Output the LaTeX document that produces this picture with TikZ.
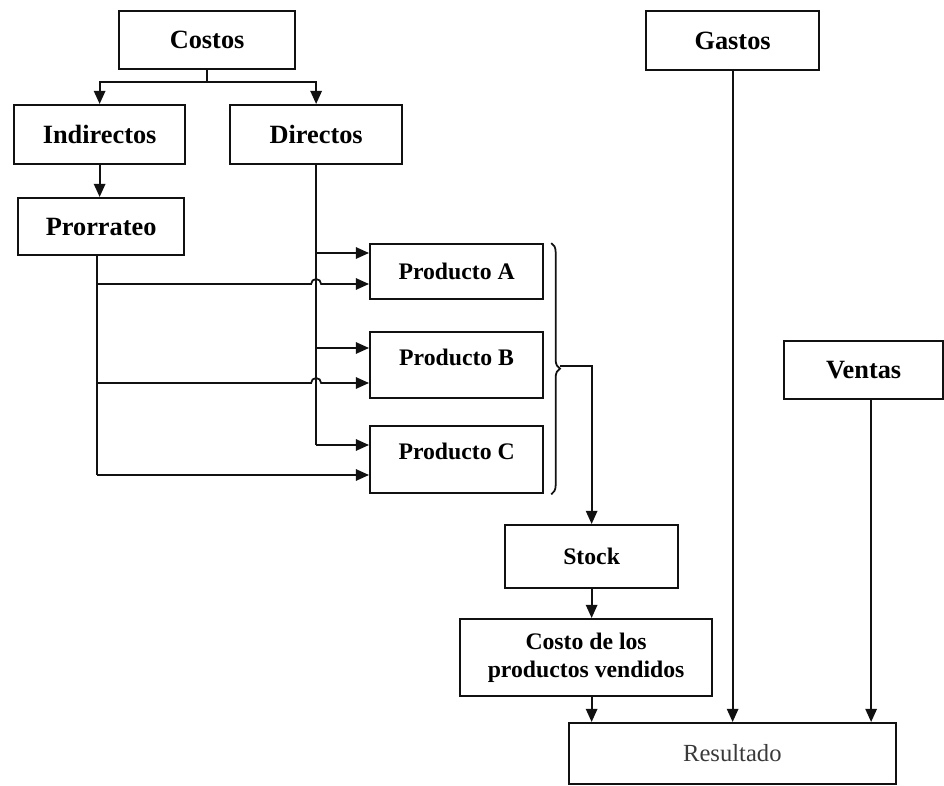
\documentclass[tikz,border=0pt]{standalone}
\usepackage{fontspec}
\setmainfont{Liberation Serif}
\usepackage{xcolor}
\usepackage{tikz}
\usetikzlibrary{arrows.meta,decorations.pathreplacing}
\definecolor{ink}{HTML}{111111}
\definecolor{soft}{HTML}{3A3A3A}
\tikzset{
  box/.style={draw=ink, line width=1.3pt, rectangle, anchor=north west, inner sep=0pt, align=center},
  big/.style={font=\fontsize{15}{17}\selectfont\bfseries},
  small/.style={font=\fontsize{13.5}{15.7}\selectfont\bfseries},
  plain/.style={font=\fontsize{14}{16}\selectfont, text=soft},
  link/.style={draw=ink, line width=1pt},
  arr/.style={link, -{Triangle[length=7.5pt,width=6.5pt]}},
  up/.style={text depth=9pt},
}

\begin{document}
\begin{tikzpicture}[x=0.02cm, y=-0.02cm]
  \useasboundingbox (0,0) rectangle (944,785);
  % boxes
  \node[box, big, minimum width=3.52cm, minimum height=1.16cm] (costos) at (118,10) {Costos};
  \node[box, big, minimum width=3.42cm, minimum height=1.18cm] (indirectos) at (13,104) {Indirectos};
  \node[box, big, minimum width=3.44cm, minimum height=1.18cm] (directos) at (229,104) {Directos};
  \node[box, big, minimum width=3.32cm, minimum height=1.14cm] (prorrateo) at (17,197) {Prorrateo};
  \node[box, small, minimum width=3.46cm, minimum height=1.10cm] (prodA) at (369,243) {Producto A};
  \node[box, small, up, minimum width=3.46cm, minimum height=1.32cm] (prodB) at (369,331) {Producto B};
  \node[box, small, up, minimum width=3.46cm, minimum height=1.34cm] (prodC) at (369,425) {Producto C};
  \node[box, small, minimum width=3.46cm, minimum height=1.26cm] (stock) at (504,524) {Stock};
  \node[box, small, minimum width=5.04cm, minimum height=1.54cm] (cpv) at (459,618) {Costo de los\\productos vendidos};
  \node[box, plain, line width=1pt, minimum width=6.54cm, minimum height=1.22cm] (resultado) at (568,722) {Resultado};
  \node[box, big, minimum width=3.46cm, minimum height=1.18cm] (gastos) at (645,10) {Gastos};
  \node[box, big, minimum width=3.18cm, minimum height=1.16cm] (ventas) at (783,340) {Ventas};

  % costos split
  \coordinate (split) at (costos.south |- 0,82);
  \draw[link] (costos.south) -- (split);
  \draw[arr] (split) -| (indirectos);
  \draw[arr] (split) -| (directos);
  \draw[arr] (indirectos.south) -- (indirectos.south |- prorrateo.north);

  % direct costs
  \coordinate (dA) at (directos.south |- 0,253);
  \coordinate (dB) at (directos.south |- 0,348);
  \coordinate (dC) at (directos.south |- 0,445);
  \draw[link] (directos.south) -- (dC);
  \draw[arr] (dA) -- (dA -| prodA.west);
  \draw[arr] (dB) -- (dB -| prodB.west);
  \draw[arr] (dC) -- (dC -| prodC.west);

  % indirect costs (hop over the direct line)
  \coordinate (pA) at (97,284);
  \coordinate (pB) at (97,383);
  \coordinate (pC) at (97,475);
  \draw[link] (pA |- prorrateo.south) -- (pC);
  \draw[arr] (pA) -- ([xshift=-0.1cm]pA -| dA) arc[start angle=180, end angle=0, radius=0.1cm] -- (pA -| prodA.west);
  \draw[arr] (pB) -- ([xshift=-0.1cm]pB -| dB) arc[start angle=180, end angle=0, radius=0.1cm] -- (pB -| prodB.west);
  \draw[arr] (pC) -- (pC -| prodC.west);

  % brace to stock
  \draw[link, decorate, decoration={brace, amplitude=5pt}] ([xshift=0.14cm]prodA.north east) -- ([xshift=0.14cm]prodC.south east);
  \coordinate (tip) at (560,366);
  \draw[arr] (tip) -| (stock);
  \draw[arr] (stock.south) -- (stock.south |- cpv.north);
  \draw[arr] (stock.south |- cpv.south) -- (stock.south |- resultado.north);

  % gastos and ventas
  \draw[arr] (gastos.south) -- (gastos.south |- resultado.north);
  \draw[arr] ([xshift=0.15cm]ventas.south) -- ([xshift=0.15cm]ventas.south |- resultado.north);
\end{tikzpicture}
\end{document}
